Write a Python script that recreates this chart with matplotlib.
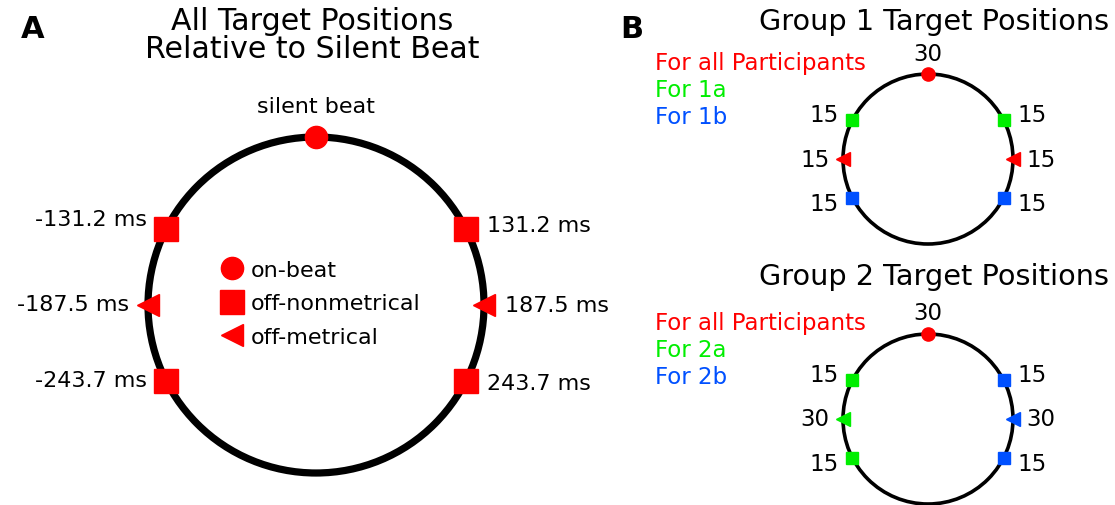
import numpy as np
import matplotlib
matplotlib.use("Agg")
import matplotlib.pyplot as plt
from matplotlib.patches import Circle
from matplotlib.lines import Line2D

# ---------------- data ----------------
cycle_ms = 750.0
target_ms = [0.0, -131.2, 131.2, -187.5, 187.5, -243.7, 243.7]
target_type = ["on-beat", "off-nonmetrical", "off-nonmetrical",
               "off-metrical", "off-metrical", "off-nonmetrical", "off-nonmetrical"]
target_labels = ["silent beat", "-131.2 ms", "131.2 ms", "-187.5 ms",
                 "187.5 ms", "-243.7 ms", "243.7 ms"]
legend_types = ["on-beat", "off-nonmetrical", "off-metrical"]

group1_counts = [30, 15, 15, 15, 15, 15, 15]
group1_sets = ["all", "a", "a", "all", "all", "b", "b"]
group2_counts = [30, 15, 15, 30, 30, 15, 15]
group2_sets = ["all", "a", "b", "a", "b", "a", "b"]
group1_legend = ["For all Participants", "For 1a", "For 1b"]
group2_legend = ["For all Participants", "For 2a", "For 2b"]

# ---------------- style ----------------
W, H = 1115, 506
marker_of = {"on-beat": "o", "off-nonmetrical": "s", "off-metrical": "<"}
color_of = {"all": "#ff0000", "a": "#00ee00", "b": "#0050ff"}
RED = "#ff0000"
PX = 0.72  # points per pixel at 100 dpi

fig = plt.figure(figsize=(W / 100, H / 100), dpi=100)
fig.patch.set_facecolor("white")


def circle_axes(cx, cy, r, k=2.2):
    ax = fig.add_axes([(cx - k * r) / W, 1 - (cy + k * r) / H, 2 * k * r / W, 2 * k * r / H])
    ax.set_xlim(-k, k)
    ax.set_ylim(-k, k)
    ax.set_aspect("equal")
    ax.axis("off")
    ax.patch.set_alpha(0)
    return ax


def pos(ms):
    th = np.deg2rad(np.asarray(ms) / cycle_ms * 360.0)
    return np.sin(th), np.cos(th)


def ftext(x, y, s, **kw):
    fig.text(x / W, 1 - y / H, s, **kw)


# ---------------- Panel A ----------------
axA = circle_axes(316, 306, 168)
axA.add_patch(Circle((0, 0), 1, fill=False, lw=5.2, color="black", zorder=1))
sizes_A = {"o": 16, "s": 17, "<": 15.5}
xs, ys = pos(target_ms)
for x, y, t, lab, ms in zip(xs, ys, target_type, target_labels, target_ms):
    m = marker_of[t]
    axA.plot([x], [y], marker=m, ms=sizes_A[m], color=RED, mec=RED, ls="none",
             zorder=3, clip_on=False)
    if ms == 0:
        axA.annotate(lab, (x, y), xytext=(0, 31 * PX), textcoords="offset points",
                     ha="center", va="center", fontsize=16)
    elif ms < 0:
        dy = {-131.2: 10, -187.5: 1, -243.7: 1}[ms]
        axA.annotate(lab, (x, y), xytext=(-19 * PX, dy * PX), textcoords="offset points",
                     ha="right", va="center", fontsize=16)
    else:
        dy = {131.2: 4, 187.5: 0, 243.7: -2}[ms]
        axA.annotate(lab, (x, y), xytext=(21 * PX, dy * PX), textcoords="offset points",
                     ha="left", va="center", fontsize=16)

handles = [Line2D([], [], marker=marker_of[t], color=RED, ls="none",
                  ms=sizes_A[marker_of[t]]) for t in legend_types]
axA.legend(handles, legend_types, loc="center", bbox_to_anchor=(0.03, 0.01),
           bbox_transform=axA.transData, frameon=False, fontsize=16,
           handlelength=1.0, handletextpad=0.35, labelspacing=0.6, borderpad=0)

ftext(312, 22, "All Target Positions", ha="center", va="center", fontsize=21.6)
ftext(312, 50, "Relative to Silent Beat", ha="center", va="center", fontsize=21.6)
ftext(33, 30, "A", ha="center", va="center", fontsize=22, fontweight="bold")
ftext(632, 30, "B", ha="center", va="center", fontsize=22, fontweight="bold")

# ---------------- Panel B ----------------
sizes_B = {"o": 9.5, "s": 9, "<": 10}


def group_panel(cy, counts, sets, legend_lines, title, title_y, leg_y):
    ax = circle_axes(928, cy, 85)
    ax.add_patch(Circle((0, 0), 1, fill=False, lw=2.6, color="black", zorder=1))
    xs, ys = pos(target_ms)
    for x, y, t, c, s in zip(xs, ys, target_type, counts, sets):
        m = marker_of[t]
        ax.plot([x], [y], marker=m, ms=sizes_B[m], color=color_of[s], mec=color_of[s],
                ls="none", zorder=3, clip_on=False)
        if abs(x) < 0.01:
            off = (0, 21)
        else:
            off = (28 * np.sign(x), 13 * y)
        ax.annotate(str(c), (x, y), xytext=(off[0] * PX, off[1] * PX),
                    textcoords="offset points", ha="center", va="center", fontsize=16.5)
    ftext(934, title_y, title, ha="center", va="center", fontsize=20.7)
    for i, (txt, key) in enumerate(zip(legend_lines, ["all", "a", "b"])):
        ftext(655, leg_y + i * 27, txt, ha="left", va="center", fontsize=16.5,
              color=color_of[key])


group_panel(160, group1_counts, group1_sets, group1_legend,
            "Group 1 Target Positions", 22, 64)
group_panel(420, group2_counts, group2_sets, group2_legend,
            "Group 2 Target Positions", 277, 324)

fig.savefig("out.png", dpi=100)
